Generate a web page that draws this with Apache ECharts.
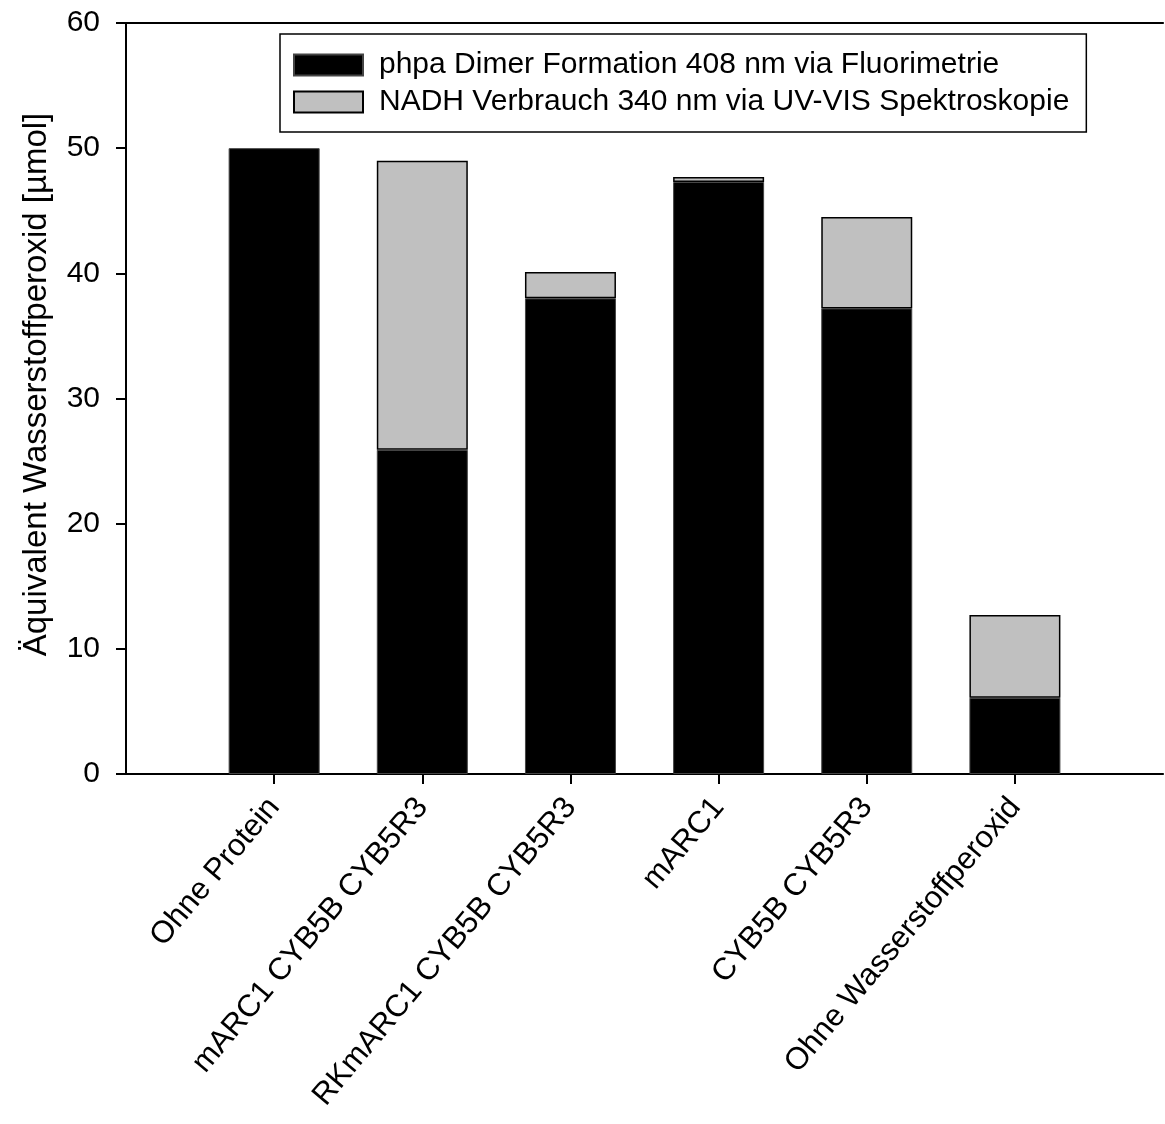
<!DOCTYPE html>
<html>
<head>
<meta charset="utf-8">
<script src="https://cdn.jsdelivr.net/npm/echarts@6/dist/echarts.min.js"></script>
<style>
html,body{margin:0;padding:0;background:#fff;}
#chart{width:1165px;height:1124px;}
</style>
</head>
<body>
<div id="chart"></div>
<script>
const categories = ['Ohne Protein', 'mARC1 CYB5B CYB5R3', 'RKmARC1 CYB5B CYB5R3', 'mARC1', 'CYB5B CYB5R3', 'Ohne Wasserstoffperoxid'];
const phpaDimer = [50.0, 25.9, 38.0, 47.3, 37.2, 6.1];
const nadhTotal = [null, 49.0, 40.1, 47.7, 44.5, 12.7];
const yTicks = [0, 10, 20, 30, 40, 50, 60];
const seriesNames = ['phpa Dimer Formation 408 nm via Fluorimetrie', 'NADH Verbrauch 340 nm via UV-VIS Spektroskopie'];
const yAxisName = 'Äquivalent Wasserstoffperoxid [µmol]';

// pad categories with empty slots so the bars sit at 1..6 on a 0..7 axis
const axisCats = [''].concat(categories, ['']);
const blackData = ['-'].concat(phpaDimer, ['-']);
const grayData = ['-'].concat(nadhTotal.map((t, i) => t == null ? '-' : +(t - phpaDimer[i]).toFixed(2)), ['-']);

const FONT = 'Liberation Sans, Arial, sans-serif';
const chart = echarts.init(document.getElementById('chart'), null, {renderer: 'canvas'});
chart.setOption({
  animation: false,
  backgroundColor: '#fff',
  grid: {left: 126, top: 23, right: -4, bottom: 350, containLabel: false},
  legend: {
    data: seriesNames,
    orient: 'vertical',
    left: 280, top: 34,
    padding: [16, 17, 15, 13],
    itemWidth: 69, itemHeight: 21, itemGap: 7,
    borderColor: '#000', borderWidth: 1.5,
    textStyle: {fontFamily: FONT, fontSize: 30, color: '#000', padding: [0, 0, 0, 11]},
    icon: 'rect'
  },
  xAxis: [{
    type: 'category', data: axisCats, boundaryGap: false, position: 'bottom',
    axisLine: {lineStyle: {color: '#000', width: 2}},
    axisTick: {show: true, length: 10, inside: false, lineStyle: {color: '#000', width: 2},
      interval: (i, v) => v !== ''},
    axisLabel: {rotate: 50, interval: 0, margin: 28, padding: [18, 0, 0, 0], fontFamily: FONT, fontSize: 31, color: '#000'},
    splitLine: {show: false}
  }, {
    type: 'category', data: axisCats, boundaryGap: false, position: 'top',
    axisLine: {lineStyle: {color: '#000', width: 2}},
    axisTick: {show: false}, axisLabel: {show: false}, splitLine: {show: false}
  }],
  yAxis: {
    type: 'value', min: yTicks[0], max: yTicks[yTicks.length - 1], interval: 10,
    name: yAxisName, nameLocation: 'middle', nameGap: 73,
    nameTextStyle: {fontFamily: FONT, fontSize: 33, color: '#000', padding: [0, 0, 0, 28]},
    axisLine: {show: true, lineStyle: {color: '#000', width: 2}},
    axisTick: {show: true, length: 10, lineStyle: {color: '#000', width: 2}},
    axisLabel: {margin: 26, fontFamily: FONT, fontSize: 30, color: '#000'},
    splitLine: {show: false}
  },
  series: [{
    name: seriesNames[0], type: 'bar', stack: 'total', data: blackData, barWidth: 91,
    itemStyle: {color: '#000', borderColor: '#444', borderWidth: 1}
  }, {
    name: seriesNames[1], type: 'bar', stack: 'total', data: grayData, barWidth: 91,
    itemStyle: {color: '#c0c0c0', borderColor: '#000', borderWidth: 1.5}
  }]
});
</script>
</body>
</html>
